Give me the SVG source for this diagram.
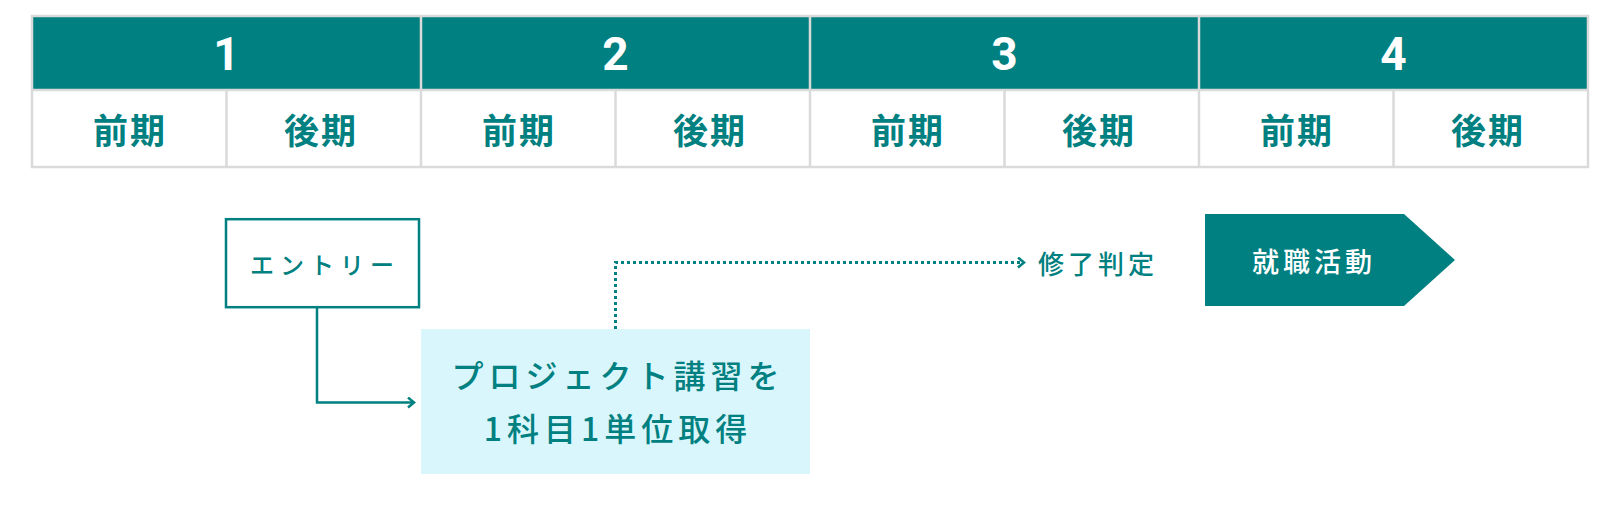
<svg xmlns="http://www.w3.org/2000/svg" width="1621" height="517" viewBox="0 0 1621 517">
<style>
.hdr{fill:#008080}
.grid{stroke:#dadada;stroke-width:2.5;fill:none}
.yr{font-family:Roboto,"Liberation Sans",sans-serif;font-weight:bold;font-size:46px;fill:#ffffff;text-anchor:middle}
.term{font-family:"Noto Sans CJK JP",sans-serif;font-weight:bold;font-size:35px;fill:#008080;text-anchor:middle;letter-spacing:2px}
.lbl{font-family:"Noto Sans CJK JP",sans-serif;font-weight:500;fill:#008080;text-anchor:middle}
.line{stroke:#008080;stroke-width:2.5;fill:none}
.dot{stroke:#008080;stroke-width:3;fill:none;stroke-dasharray:3 3}
</style>
<defs>
<marker id="arr" viewBox="0 0 10 12" refX="8" refY="6" markerWidth="10" markerHeight="12" markerUnits="userSpaceOnUse" orient="auto">
<path d="M2,1 L8,6 L2,11" fill="none" stroke="#008080" stroke-width="2.5"/>
</marker>
</defs>
<rect width="1621" height="517" fill="#ffffff"/>
<g id="table">
<rect class="hdr" x="32" y="16" width="1556" height="74"/>
<rect x="32" y="90" width="1556" height="77" fill="#ffffff"/>
<rect class="grid" x="32" y="16" width="1556" height="151"/>
<line class="grid" x1="32" y1="90" x2="1588" y2="90"/>
<line class="grid" x1="421" y1="16" x2="421" y2="167"/>
<line class="grid" x1="810" y1="16" x2="810" y2="167"/>
<line class="grid" x1="1199" y1="16" x2="1199" y2="167"/>
<line class="grid" x1="226.5" y1="90" x2="226.5" y2="167"/>
<line class="grid" x1="615.5" y1="90" x2="615.5" y2="167"/>
<line class="grid" x1="1004.5" y1="90" x2="1004.5" y2="167"/>
<line class="grid" x1="1393.5" y1="90" x2="1393.5" y2="167"/>
<text class="yr" x="226.5" y="70">1</text>
<text class="yr" x="615.5" y="70">2</text>
<text class="yr" x="1004.5" y="70">3</text>
<text class="yr" x="1393.5" y="70">4</text>
<text class="term" x="130" y="144">前期</text>
<text class="term" x="321" y="144">後期</text>
<text class="term" x="519" y="144">前期</text>
<text class="term" x="710" y="144">後期</text>
<text class="term" x="908" y="144">前期</text>
<text class="term" x="1099" y="144">後期</text>
<text class="term" x="1297" y="144">前期</text>
<text class="term" x="1488" y="144">後期</text>
</g>
<g id="connectors">
<path class="line" d="M317,308 V402.5 H414" marker-end="url(#arr)"/>
<path class="dot" d="M615.5,329 V262.5 H1024" marker-end="url(#arr)"/>
</g>
<g id="entry">
<rect x="226" y="219.2" width="193" height="88" fill="#ffffff" stroke="#008080" stroke-width="2.5"/>
<text class="lbl" x="325" y="274" font-size="24" font-weight="bold" letter-spacing="6">エントリー</text>
</g>
<g id="project">
<rect x="421" y="329" width="389" height="145" fill="#d9f6fc"/>
<text class="lbl" x="618" y="388" font-size="32" letter-spacing="5">プロジェクト講習を</text>
<text class="lbl" x="618" y="441" font-size="32" letter-spacing="5">1科目1単位取得</text>
</g>
<g id="judge">
<text class="lbl" x="1098" y="274" font-size="26" letter-spacing="4">修了判定</text>
</g>
<g id="job">
<polygon points="1205,214 1404,214 1455,260 1404,306 1205,306" fill="#008080"/>
<text x="1314" y="272" font-family="'Noto Sans CJK JP',sans-serif" font-weight="500" font-size="27" fill="#ffffff" text-anchor="middle" letter-spacing="4">就職活動</text>
</g>
</svg>
